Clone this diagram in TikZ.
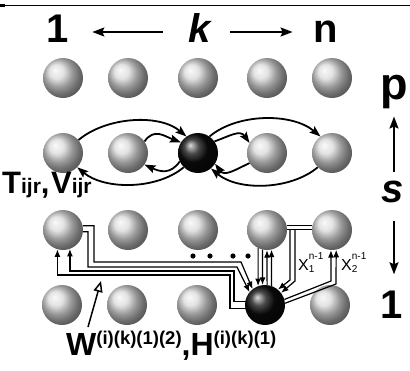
\documentclass[tikz,border=0pt]{standalone}
\usepackage{fontspec}
\setmainfont{Liberation Sans}
\usetikzlibrary{arrows.meta,calc}
\newcommand{\myfs}[1]{\fontsize{#1}{#1}\selectfont}
\newcommand{\xlab}[1]{{\myfs{16}X}\rlap{\raisebox{-2.5pt}{\myfs{10}#1}}\raisebox{11pt}{\myfs{10}n-1}}
\tikzset{
  sph/.style={circle,minimum size=40pt,inner sep=0pt,ball color=black!15},
  dsph/.style={circle,minimum size=40pt,inner sep=0pt,ball color=black!95},
  arcarrow/.style={line width=1.8pt,-{Stealth[length=11pt,width=8pt,inset=2pt]}},
  bl/.style={line width=1.2pt},
  bla/.style={line width=1.2pt,-{Latex[length=7.5pt,width=6pt]}},
  bigarrow/.style={line width=1.8pt,-{Stealth[length=12pt,width=9pt,inset=2pt]}},
  lbl/.style={inner sep=0pt,anchor=base,font=\bfseries\myfs{40}},
  lbli/.style={inner sep=0pt,anchor=base,font=\bfseries\itshape\myfs{40}},
}
\begin{document}
\begin{tikzpicture}[x=1pt,y=-1pt]
\useasboundingbox (0,0) rectangle (410,370);
% top rule
\draw[line width=1pt] (0,5) -- (410,5);
\fill (0,3.5) rectangle (5,7);

% spheres
\foreach \c/\x in {1/63,2/128,3/198,4/267,5/332}{
  \node[sph] (r1c\c) at (\x,78) {};
}
\node[sph] (r2c1) at (63,153) {};
\node[sph] (r2c2) at (128,153) {};
\node[dsph] (r2c3) at (198,153) {};
\node[sph] (r2c4) at (267,153) {};
\node[sph] (r2c5) at (332,153) {};
\foreach \c/\x in {1/63,2/128,3/198,4/267,5/332}{
  \node[sph] (r3c\c) at (\x,230) {};
}
\node[sph] (r4c1) at (62,305) {};
\node[sph] (r4c2) at (127,305) {};
\node[sph] (r4c3) at (197,305) {};
\node[dsph] (r4c4) at (265,305) {};
\node[sph] (r4c5) at (330,305) {};

% top labels
\node[lbl] (one) at (58,42) {1};
\node[lbli] (k) at (200,42) {k};
\node[lbl] (n) at (326,42) {n};
\draw[bigarrow,shorten <=26pt,shorten >=23pt] ([yshift=10pt]k.base west) -- ([yshift=10pt]one.base east);
\draw[bigarrow,shorten <=19pt,shorten >=21pt] ([yshift=10pt]k.base east) -- ([yshift=10pt]n.base west);

% right labels
\node[lbl,font=\bfseries\myfs{45}] (p) at (394,99) {p};
\node[lbli] (s) at (393,202) {s};
\node[lbl] (one2) at (392,318) {1};
\coordinate (colx) at (394,0);
\draw[bigarrow,shorten <=8.5pt,shorten >=8pt] (s.north -| colx) -- (p.south -| colx);
\draw[bigarrow,shorten <=18pt,shorten >=16pt] (s.south -| colx) -- (one2.north -| colx);

% row 2 arcs
\draw[arcarrow] (r2c1.40) to[out=40,in=140,looseness=0.85] (r2c3.125);
\draw[arcarrow] (r2c2.35) to[out=55,in=160,looseness=1.2] (r2c3.148);
\draw[arcarrow] (r2c3.35) to[out=20,in=125,looseness=1.2] (r2c4.150);
\draw[arcarrow] (r2c3.55) to[out=40,in=140,looseness=0.85] (r2c5.125);
\draw[arcarrow] (r2c3.-135) to[out=-140,in=-40,looseness=0.85] (r2c1.-45);
\draw[arcarrow] (r2c3.-155) to[out=-125,in=-25,looseness=1.2] (r2c2.-35);
\draw[arcarrow] (r2c4.-150) to[out=-155,in=-55,looseness=1.2] (r2c3.-32);
\draw[arcarrow] (r2c5.-135) to[out=-140,in=-40,looseness=0.85] (r2c3.-50);

\node[anchor=base west,inner sep=0pt,font=\bfseries] (tv) at (2,193)
  {\myfs{31}T\myfs{21}ijr\myfs{31},\hspace{1.5pt}V\myfs{21}ijr};

% left bundle
\draw[bla] (r3c1.12) -| (94,262) -- (241,262) -- (r4c4.128);
\draw[bla] (r3c1.-5) -| (88,267) -- (237,267) -- (r4c4.140);
\draw[bla] (r4c4.170) -| (234,271) -| (r3c1.-70);
\draw[bla] (r4c4.190) -| (230,275) -| (r3c1.-106);

% verticals
\draw[bla] (r3c4.-116.74) -- (r4c4.110.49);
\draw[bla] (r3c4.-103.0) -- (r4c4.97.18);
\draw[bla] (r4c4.84.26) -- (r3c4.-90);
\draw[bla] (r4c4.71.03) -- (r3c4.-77.0);

% right group
\draw[bl] (r3c4.14) -- (r3c5.166);
\draw[bl] (r3c4.2) -- (r3c5.178);
\coordinate (j1) at (290,229.3);
\coordinate (j2) at (295,229.3);
\draw[bla] (j1) -- (290,280) -- (r4c4.50);
\draw[bla] (j2) -- (295,281) -- (r4c4.37);
\draw[bla] (r4c4.16) -- (331,281) -- (r3c5.-93);
\draw[bla] (r4c4.5) -- (336,284) -- (r3c5.-78.5);

\node[anchor=base west,inner sep=0pt] (x1) at (298,270) {\xlab{1}};
\node[anchor=base west,inner sep=0pt] (x2) at (341,270) {\xlab{2}};

% dots
\foreach \x in {193,210,233,248}{\fill (\x,256) circle (2.6pt);}

% bottom label
\node[anchor=base west,inner sep=0pt,font=\bfseries] (wh) at (66,355)
  {\myfs{32}W\raisebox{11pt}{\myfs{18.5}(i)(k)(1)(2)}\myfs{32},H\raisebox{11pt}{\myfs{18.5}(i)(k)(1)}};
\coordinate (wfoot) at (88,327);
\coordinate (wtip) at (101,281);
\draw[line width=1.5pt,-{Triangle[open,length=11pt,width=9pt]}] (wfoot) -- (wtip);
\end{tikzpicture}
\end{document}
